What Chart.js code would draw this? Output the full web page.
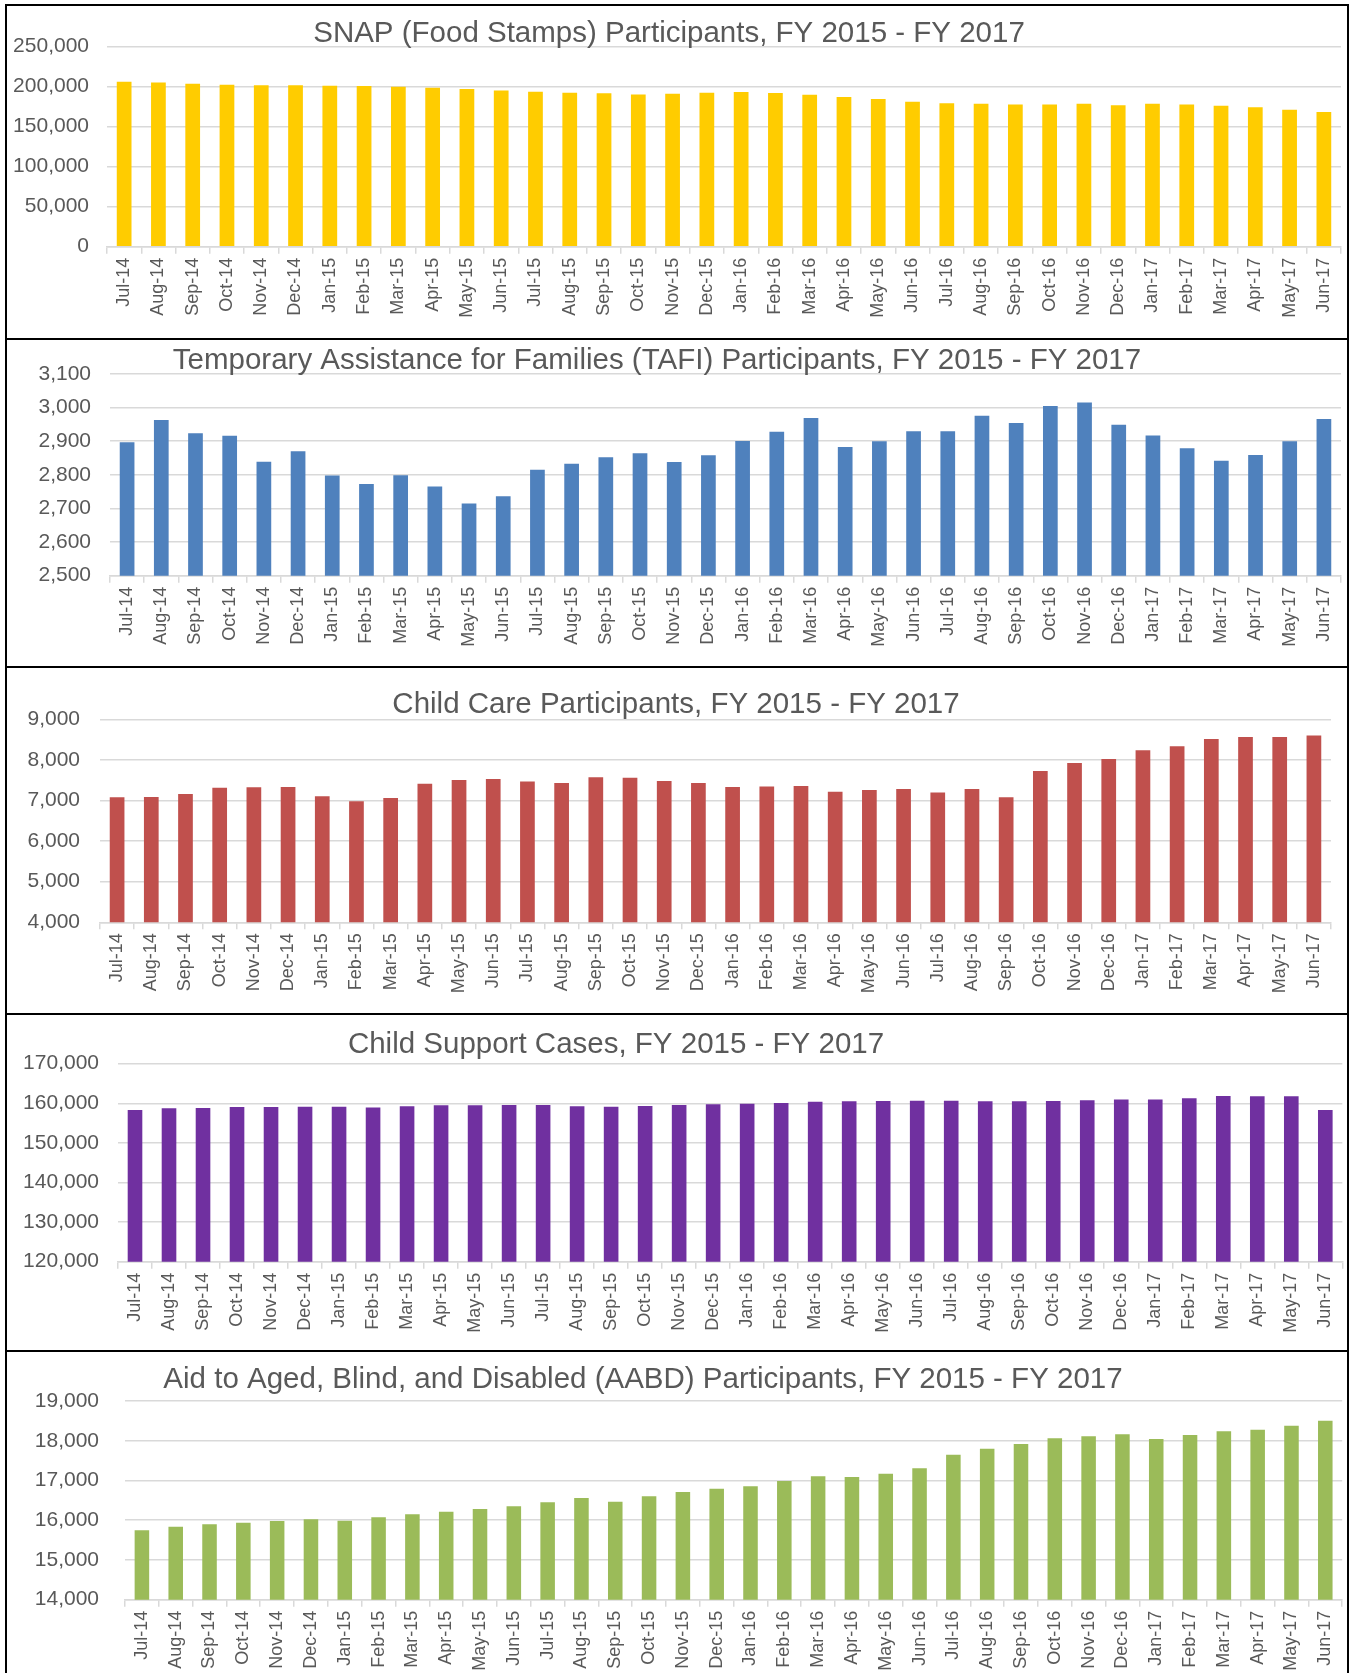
<!DOCTYPE html>
<html>
<head>
<meta charset="utf-8">
<script src="https://cdn.jsdelivr.net/npm/chart.js@4.4.1/dist/chart.umd.min.js"></script>
<style>
body { margin:0; background:#fff; }
#page { position:relative; width:1351px; height:1673px; overflow:hidden; }
#page canvas { position:absolute; left:0; }
.box { position:absolute; border:2px solid #000; box-sizing:border-box; pointer-events:none; }
</style>
</head>
<body>
<div id="page"></div>
<script>
// months, Jul-14 .. Jun-17
var months = ['Jul-14','Aug-14','Sep-14','Oct-14','Nov-14','Dec-14','Jan-15','Feb-15','Mar-15','Apr-15','May-15','Jun-15',
              'Jul-15','Aug-15','Sep-15','Oct-15','Nov-15','Dec-15','Jan-16','Feb-16','Mar-16','Apr-16','May-16','Jun-16',
              'Jul-16','Aug-16','Sep-16','Oct-16','Nov-16','Dec-16','Jan-17','Feb-17','Mar-17','Apr-17','May-17','Jun-17'];

var snap = [206200, 205400, 203800, 202500, 201700, 201700, 201200, 200800, 200000, 198800, 197100, 195400,
            193800, 192500, 191700, 190400, 191200, 192500, 193300, 192100, 190000, 187100, 184600, 181200,
            179200, 178800, 177900, 177900, 178800, 176700, 178800, 177900, 176200, 174200, 171200, 168300];
var tafi = [2897, 2963, 2924, 2916, 2839, 2870, 2798, 2773, 2799, 2765, 2715, 2736,
            2815, 2833, 2852, 2864, 2838, 2858, 2901, 2928, 2969, 2883, 2900, 2930,
            2930, 2976, 2954, 3005, 3015, 2949, 2917, 2879, 2842, 2859, 2900, 2966];
var childCare = [7079, 7087, 7161, 7317, 7325, 7333, 7103, 6980, 7062, 7415, 7506, 7530,
                 7465, 7432, 7571, 7563, 7481, 7432, 7333, 7342, 7358, 7218, 7259, 7284,
                 7194, 7284, 7079, 7727, 7924, 8023, 8236, 8335, 8516, 8565, 8565, 8598];
var childSupport = [158300, 158720, 158800, 159060, 159060, 159140, 159140, 158970, 159230, 159480, 159480, 159560,
                    159560, 159230, 159140, 159310, 159560, 159730, 159900, 160070, 160400, 160490, 160570, 160660,
                    160660, 160490, 160490, 160570, 160740, 160990, 160990, 161250, 161840, 161750, 161750, 158300];
var aabd = [15745, 15837, 15896, 15938, 15980, 16022, 15988, 16072, 16148, 16215, 16282, 16349,
            16450, 16559, 16466, 16601, 16710, 16794, 16852, 16987, 17104, 17087, 17171, 17305,
            17649, 17800, 17918, 18060, 18111, 18161, 18044, 18144, 18237, 18279, 18379, 18505];

// y axis: min, max, step
var snapAxis = [0, 250000, 50000];
var tafiAxis = [2500, 3100, 100];
var childCareAxis = [4000, 9000, 1000];
var childSupportAxis = [120000, 170000, 10000];
var aabdAxis = [14000, 19000, 1000];

Chart.defaults.font.family = '"Liberation Sans", Arial, sans-serif';
Chart.defaults.color = '#595959';

// title drawn where Excel had it, over the plot
var titlePlugin = {
  id: 'panelTitle',
  afterDraw: function(chart, args, opts) {
    var ctx = chart.ctx;
    ctx.save();
    ctx.font = '29.5px "Liberation Sans", Arial, sans-serif';
    ctx.fillStyle = '#595959';
    ctx.textAlign = 'center';
    ctx.textBaseline = 'alphabetic';
    ctx.fillText(opts.text, opts.x, opts.y);
    ctx.restore();
  }
};

// panel layout: box top/bottom, plot [left, top, right, bottom], title centre/baseline
var panels = [
  {title:'SNAP (Food Stamps) Participants, FY 2015 - FY 2017', data:snap, axis:snapAxis, color:'#FFCC00',
   top:4, bottom:338, plot:[107, 46.7, 1341, 246.7], tx:669, ty:41.7, gap:18},
  {title:'Temporary Assistance for Families (TAFI) Participants, FY 2015 - FY 2017', data:tafi, axis:tafiAxis, color:'#4F81BD',
   top:338, bottom:666, plot:[110, 374, 1341, 575.7], tx:657, ty:369.3, gap:19},
  {title:'Child Care Participants, FY 2015 - FY 2017', data:childCare, axis:childCareAxis, color:'#C0504D',
   top:666, bottom:1013, plot:[100, 719.3, 1331, 922.3], tx:676, ty:712.7, gap:20},
  {title:'Child Support Cases, FY 2015 - FY 2017', data:childSupport, axis:childSupportAxis, color:'#7030A0',
   top:1013, bottom:1350, plot:[118, 1063.7, 1344, 1261.7], tx:616, ty:1052.7, gap:19},
  {title:'Aid to Aged, Blind, and Disabled (AABD) Participants, FY 2015 - FY 2017', data:aabd, axis:aabdAxis, color:'#9BBB59',
   top:1350, bottom:1673, plot:[125, 1401, 1343, 1599.7], tx:643, ty:1387.7, gap:26}
];

var page = document.getElementById('page');

panels.forEach(function(p) {
  var h = p.bottom - p.top;
  var cv = document.createElement('canvas');
  cv.width = 1351; cv.height = h;
  cv.style.top = p.top + 'px';
  cv.style.width = '1351px'; cv.style.height = h + 'px';
  page.appendChild(cv);

  var box = document.createElement('div');
  box.className = 'box';
  box.style.left = '5px'; box.style.width = '1344px';
  box.style.top = p.top + 'px'; box.style.height = (h + 2) + 'px';
  page.appendChild(box);

  var plotTop = p.plot[1] - p.top, plotBottom = p.plot[3] - p.top;
  var xh = Math.min(80, h - plotBottom - 2);

  new Chart(cv.getContext('2d'), {
    type: 'bar',
    data: {
      labels: months,
      datasets: [{ data: p.data, backgroundColor: p.color, barPercentage: 0.43, categoryPercentage: 1 }]
    },
    options: {
      responsive: false, animation: false, devicePixelRatio: 1,
      layout: { padding: { left: 0, top: plotTop, right: 1351 - p.plot[2], bottom: h - plotBottom - xh } },
      plugins: {
        legend: { display: false }, tooltip: { enabled: false }, title: { display: false },
        panelTitle: { text: p.title, x: p.tx, y: p.ty - p.top }
      },
      scales: {
        x: {
          offset: true,
          grid: { offset: true, drawOnChartArea: false, drawTicks: true, tickLength: 7, color: '#d9d9d9', lineWidth: 1.5 },
          border: { color: '#d9d9d9', width: 1.5 },
          ticks: { autoSkip: false, minRotation: 90, maxRotation: 90, padding: 4, font: { size: 18 }, color: '#595959' },
          afterFit: function(s) { s.height = xh; }
        },
        y: {
          min: p.axis[0], max: p.axis[1],
          ticks: { stepSize: p.axis[2], padding: p.gap, font: { size: 21 }, color: '#595959',
                   callback: function(v) { return v.toLocaleString('en-US'); } },
          grid: { color: '#d9d9d9', lineWidth: 1.5, drawTicks: false },
          border: { display: false },
          afterFit: function(s) { s.width = p.plot[0]; }
        }
      }
    },
    plugins: [titlePlugin]
  });
});
</script>
</body>
</html>
